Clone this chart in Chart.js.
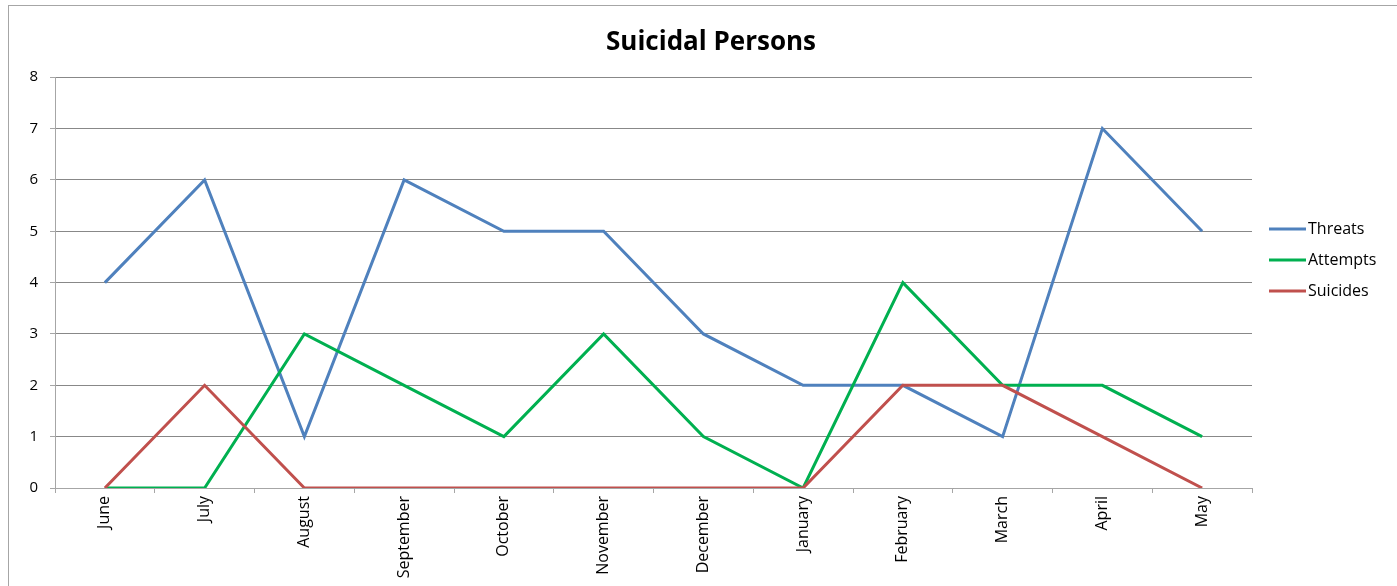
<!DOCTYPE html>
<html>
<head>
<meta charset="utf-8">
<script src="https://cdn.jsdelivr.net/npm/chart.js@4/dist/chart.umd.min.js"></script>
<style>
    html, body { margin: 0; padding: 0; background: #fff; overflow: hidden; }
    #frame {
        position: absolute; left: 8px; top: 5px;
        width: 1404px; height: 600px;
        border: 1px solid #a6a6a6;
    }
    #frame canvas { display: block; }
</style>
</head>
<body>
<div id="frame"><canvas id="suicideChart" width="1404" height="600"></canvas></div>
<script>
var months = ['June', 'July', 'August', 'September', 'October', 'November', 'December',
              'January', 'February', 'March', 'April', 'May'];
var threats  = [4, 6, 1, 6, 5, 5, 3, 2, 2, 1, 7, 5];
var attempts = [0, 0, 3, 2, 1, 3, 1, 0, 4, 2, 2, 1];
var suicides = [0, 2, 0, 0, 0, 0, 0, 0, 2, 2, 1, 0];
var yTicks   = [0, 1, 2, 3, 4, 5, 6, 7, 8];

var FONT = '"Open Sans", "Liberation Sans", sans-serif';

// legend drawn by hand to sit where Excel put it
var sideLegend = {
    id: 'sideLegend',
    afterDraw: function(chart) {
        var ctx = chart.ctx;
        var x = chart.chartArea.right + 17;
        var y = 223;
        ctx.save();
        ctx.font = '16px ' + FONT;
        ctx.textBaseline = 'middle';
        ctx.textAlign = 'left';
        chart.data.datasets.forEach(function(ds, i) {
            var yy = y + i * 31;
            ctx.strokeStyle = ds.borderColor;
            ctx.lineWidth = 3;
            ctx.beginPath();
            ctx.moveTo(x, yy);
            ctx.lineTo(x + 37, yy);
            ctx.stroke();
            ctx.fillStyle = '#000';
            ctx.fillText(ds.label, x + 39, yy);
        });
        ctx.restore();
    }
};

var ctx = document.getElementById('suicideChart').getContext('2d');
var chart = new Chart(ctx, {
    type: 'line',
    data: {
        labels: months,
        datasets: [{
            label: 'Threats',
            data: threats,
            borderColor: '#4F81BD',
            backgroundColor: '#4F81BD',
            order: 3
        }, {
            label: 'Attempts',
            data: attempts,
            borderColor: '#00B050',
            backgroundColor: '#00B050',
            order: 2
        }, {
            label: 'Suicides',
            data: suicides,
            borderColor: '#C0504D',
            backgroundColor: '#C0504D',
            order: 1
        }]
    },
    options: {
        responsive: false,
        animation: false,
        layout: { padding: 0 },
        elements: {
            line: { borderWidth: 3, tension: 0 },
            point: { radius: 0, hoverRadius: 0 }
        },
        plugins: {
            legend: { display: false },
            tooltip: { enabled: false },
            title: {
                display: true,
                text: 'Suicidal Persons',
                color: '#000',
                font: { family: FONT, size: 26, weight: 'bold', lineHeight: 1.2 },
                padding: { top: 21, bottom: 19 }
            }
        },
        scales: {
            x: {
                offset: true,
                grid: {
                    offset: true,
                    drawOnChartArea: false,
                    drawTicks: true,
                    tickLength: 5,
                    color: '#a6a6a6'
                },
                border: { color: '#a6a6a6', width: 1 },
                ticks: {
                    color: '#000',
                    font: { family: FONT, size: 16 },
                    minRotation: 90,
                    maxRotation: 90,
                    autoSkip: false,
                    padding: 3
                },
                afterFit: function(scale) { scale.height = 118; }
            },
            y: {
                min: 0,
                max: 8,
                afterBuildTicks: function(scale) {
                    scale.ticks = yTicks.map(function(v) { return { value: v }; });
                },
                grid: {
                    color: '#888888',
                    tickLength: 5,
                    tickColor: '#a6a6a6'
                },
                border: { color: '#a6a6a6', width: 1 },
                ticks: {
                    color: '#000',
                    font: { family: FONT, size: 15 },
                    padding: 12
                },
                afterFit: function(scale) { scale.width = 46; }
            },
            // empty right-hand axis that only reserves room for the legend
            legendSpace: {
                type: 'linear',
                position: 'right',
                display: true,
                min: 0,
                max: 8,
                grid: { display: false },
                border: { display: false },
                ticks: { display: false },
                afterFit: function(scale) { scale.width = 161; }
            }
        }
    },
    plugins: [sideLegend]
});
</script>
</body>
</html>
